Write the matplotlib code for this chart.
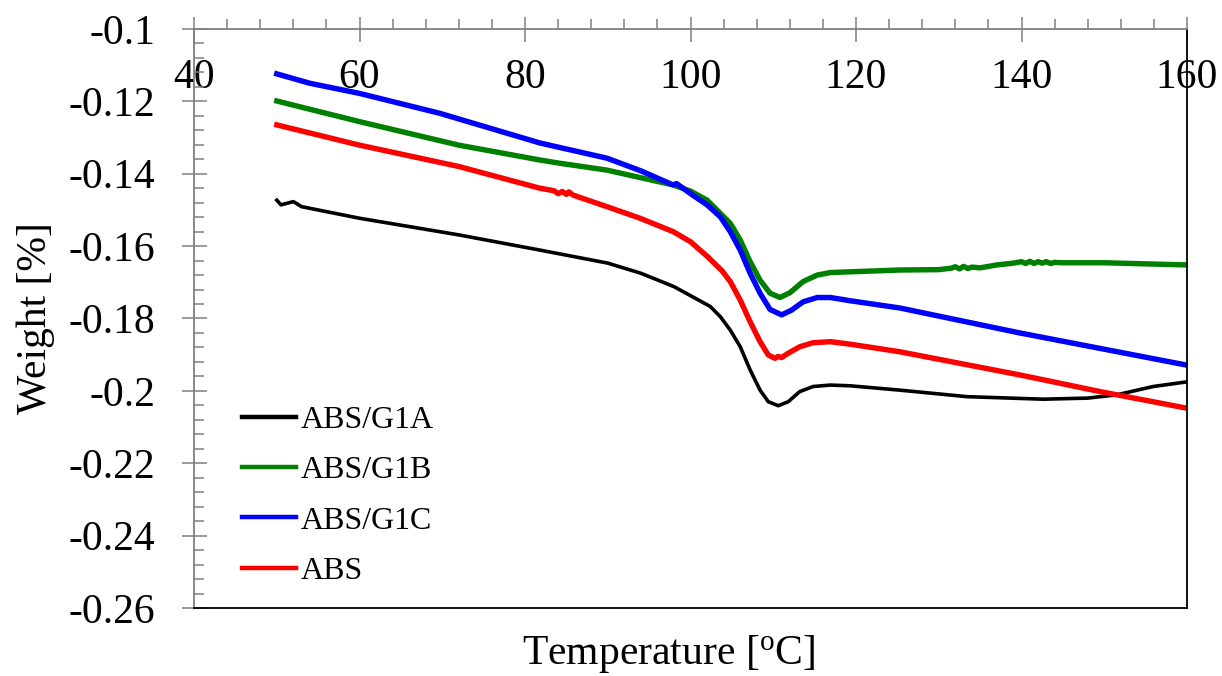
import matplotlib.pyplot as plt
from matplotlib.ticker import MultipleLocator, FormatStrFormatter

plt.rcParams['font.family'] = ['Liberation Serif', 'DejaVu Serif']
plt.rcParams['mathtext.fontset'] = 'custom'
plt.rcParams['mathtext.rm'] = 'Liberation Serif'

# ABS/G1A
t_g1a = [50, 50.5, 52, 53, 60, 72, 81.8, 85, 90, 94, 98, 100, 102.4, 103.6, 104.8,
         106, 107.2, 108.4, 109.4, 110.6, 111.8, 113.2, 114.8, 116.9, 119.3, 125.3,
         133.4, 142.6, 148, 151.5, 155.9, 160]
w_g1a = [-0.1473, -0.1486, -0.1477, -0.1491, -0.1523, -0.1569, -0.1611, -0.1625,
         -0.1647, -0.1675, -0.1712, -0.1737, -0.1767, -0.1795, -0.1832, -0.1878,
         -0.1942, -0.1998, -0.2030, -0.2041, -0.2030, -0.2002, -0.1988, -0.1984,
         -0.1986, -0.1998, -0.2016, -0.2023, -0.2020, -0.2011, -0.1988, -0.1975]

# ABS/G1B
t_g1b = [50, 60, 72, 81.8, 84.2, 89.9, 97.9, 100, 102, 104.8, 106, 107.2, 108.4,
         109.6, 110.8, 112, 113.6, 115.3, 116.9, 119.3, 125.3, 130, 131.5, 132,
         132.5, 133, 133.5, 134, 135, 137, 139, 140, 140.5, 141, 141.5, 142, 142.5,
         143, 143.5, 144, 145, 150, 160]
w_g1b = [-0.1199, -0.1256, -0.1321, -0.1362, -0.1371, -0.1390, -0.1431, -0.1448,
         -0.1473, -0.1537, -0.1583, -0.1643, -0.1694, -0.1730, -0.1742, -0.1729,
         -0.1698, -0.1680, -0.1673, -0.1671, -0.1666, -0.1665, -0.1661, -0.1657,
         -0.1663, -0.1656, -0.1662, -0.1658, -0.1660, -0.1652, -0.1647, -0.1643,
         -0.1648, -0.1642, -0.1648, -0.1643, -0.1647, -0.1643, -0.1648, -0.1645,
         -0.1646, -0.1646, -0.1652]

# ABS/G1C
t_g1c = [50, 54, 60, 69.7, 81.8, 89.9, 94, 97.9, 98.3, 100, 102, 103.6, 104.8, 106,
         107.2, 108.4, 109.6, 111, 112.2, 113.6, 115.3, 116.9, 119.3, 125.3, 139.8,
         160]
w_g1c = [-0.1124, -0.1150, -0.1178, -0.1233, -0.1315, -0.1357, -0.1392, -0.1431,
         -0.1427, -0.1455, -0.1486, -0.1519, -0.1560, -0.1611, -0.1675, -0.1730,
         -0.1775, -0.1790, -0.1777, -0.1754, -0.1742, -0.1742, -0.1751, -0.1771,
         -0.1840, -0.1929]

# ABS
t_abs = [50, 60, 72, 81.8, 83.5, 84, 84.5, 85, 85.3, 85.8, 89.9, 93.9, 97.9, 100,
         102, 103.8, 104.8, 106, 107.2, 108.4, 109.4, 110.2, 110.6, 111, 111.8,
         113.2, 114.8, 116.9, 119.3, 125.3, 139.8, 149.5, 160]
w_abs = [-0.1265, -0.1321, -0.1380, -0.1440, -0.1447, -0.1455, -0.1449, -0.1457,
         -0.1450, -0.1459, -0.1491, -0.1523, -0.1560, -0.1588, -0.1628, -0.1668,
         -0.1698, -0.1749, -0.1809, -0.1864, -0.1901, -0.1910, -0.1905, -0.1908,
         -0.1896, -0.1878, -0.1867, -0.1864, -0.1871, -0.1892, -0.1956, -0.2002,
         -0.2048]

fig = plt.figure(figsize=(12.22, 6.76), dpi=100)
ax = fig.add_axes([0.1588, 0.1006, 0.8126, 0.8565])

ax.plot(t_g1a, w_g1a, color='black', lw=2.6, label='ABS/G1A')
ax.plot(t_g1b, w_g1b, color='#008000', lw=3.9, label='ABS/G1B')
ax.plot(t_g1c, w_g1c, color='#0000ff', lw=3.9, label='ABS/G1C')
ax.plot(t_abs, w_abs, color='#ff0000', lw=3.9, label='ABS')

ax.set_xlim(40, 160)
ax.set_ylim(-0.26, -0.1)

ax.xaxis.set_major_locator(MultipleLocator(20))
ax.xaxis.set_minor_locator(MultipleLocator(4))
ax.yaxis.set_major_locator(MultipleLocator(0.02))
ax.yaxis.set_minor_locator(MultipleLocator(0.004))
ax.yaxis.set_major_formatter(FormatStrFormatter('%g'))

# x axis sits on the top edge, labels hang below it
ax.tick_params(axis='x', which='both', bottom=False, labelbottom=False,
               top=True, labeltop=True, colors='#808080', labelcolor='black')
ax.tick_params(axis='x', which='major', direction='inout', length=18, width=1.1,
               labelsize=30, pad=-58)
ax.tick_params(axis='x', which='minor', direction='out', length=7, width=1.1)
ax.tick_params(axis='y', which='both', right=False, colors='#808080',
               labelcolor='black')
ax.tick_params(axis='y', which='major', direction='inout', length=18, width=1.1,
               labelsize=30, pad=19)
ax.tick_params(axis='y', which='minor', direction='in', length=7, width=1.1)

for side in ['left', 'top']:
    ax.spines[side].set_color('#808080')
    ax.spines[side].set_linewidth(1.3)
for side in ['right', 'bottom']:
    ax.spines[side].set_color('black')
    ax.spines[side].set_linewidth(1.3)

ax.set_xlabel(r'Temperature [$\mathregular{^o}$C]', fontsize=30)
ax.xaxis.set_label_coords(0.478, -0.043)
ax.set_ylabel('Weight [%]', fontsize=30)
ax.yaxis.set_label_coords(-0.14, 0.5)

leg = ax.legend(loc='upper left', bbox_to_anchor=(0.048, 0.35), frameon=False,
                fontsize=23, handlelength=1.7, handletextpad=0.15,
                labelspacing=0.66, borderpad=0, borderaxespad=0)
for line in leg.get_lines():
    line.set_linewidth(3.2)

fig.savefig('out.png', dpi=100)
